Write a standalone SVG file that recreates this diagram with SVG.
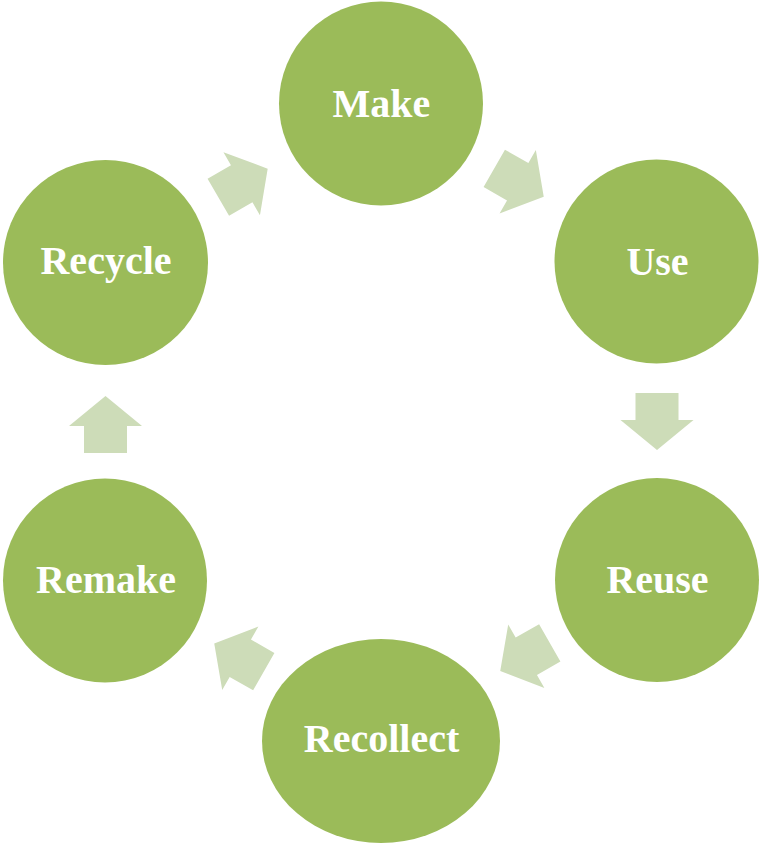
<svg xmlns="http://www.w3.org/2000/svg" xmlns:xlink="http://www.w3.org/1999/xlink" width="762" height="846" viewBox="0 0 762 846">
<style>
.node{fill:#9BBB59}
.lbl{font-family:"Liberation Serif","Times New Roman",serif;font-weight:bold;font-size:40px;fill:#FFFFFF;text-anchor:middle}
.arr{fill:#CDDCB8}
</style>
<defs>
<path id="arrow" d="M-28.5,-21.5 L-1.5,-21.5 L-1.5,-36.5 L28.5,0 L-1.5,36.5 L-1.5,21.5 L-28.5,21.5 Z"/>
</defs>
<rect width="762" height="846" fill="#FFFFFF"/>
<g id="connectors" class="arr">
<use xlink:href="#arrow" transform="translate(519,182.5) rotate(29.8)"/>
<use xlink:href="#arrow" transform="translate(657,421.5) rotate(90)"/>
<use xlink:href="#arrow" transform="translate(525,657) rotate(150.3)"/>
<use xlink:href="#arrow" transform="translate(239,657.5) rotate(209.7)"/>
<use xlink:href="#arrow" transform="translate(105.5,424.5) rotate(-90)"/>
<use xlink:href="#arrow" transform="translate(243,183) rotate(-30)"/>
</g>
<g id="make"><circle class="node" cx="381" cy="103.5" r="102"/><text class="lbl" x="381.5" y="117">Make</text></g>
<g id="use"><circle class="node" cx="656.5" cy="261.5" r="102"/><text class="lbl" x="657.5" y="275">Use</text></g>
<g id="reuse"><circle class="node" cx="657" cy="580" r="102"/><text class="lbl" x="657.5" y="593">Reuse</text></g>
<g id="recollect"><ellipse class="node" cx="381" cy="741" rx="119" ry="102"/><text class="lbl" x="381.5" y="752">Recollect</text></g>
<g id="remake"><circle class="node" cx="105" cy="580.5" r="102"/><text class="lbl" x="106" y="593">Remake</text></g>
<g id="recycle"><circle class="node" cx="105.5" cy="262.5" r="102.5"/><text class="lbl" x="106" y="274">Recycle</text></g>
</svg>
